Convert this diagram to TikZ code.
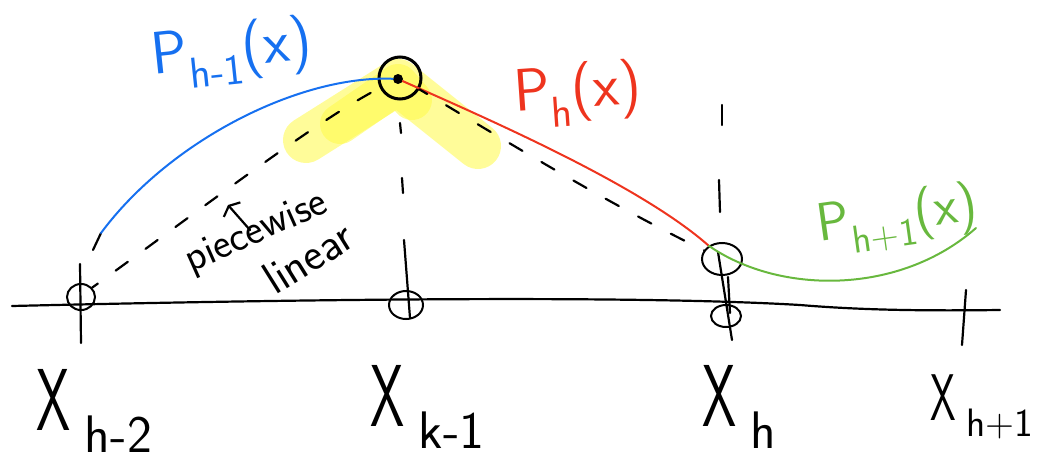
\documentclass[tikz,border=0pt]{standalone}
\usepackage{tikz}
\usetikzlibrary{arrows.meta,shapes.geometric}
\definecolor{penblue}{RGB}{22,112,240}
\definecolor{penred}{RGB}{238,52,30}
\definecolor{pengreen}{RGB}{104,184,62}
\definecolor{marker}{RGB}{255,250,70}
\tikzset{
  pen/.style={line width=2.2pt, line cap=round, line join=round, draw=black},
  dashpen/.style={pen, dash pattern=on 15pt off 22pt},
  colpen/.style={line width=2pt, line cap=round, line join=round},
  knot/.style={ellipse, draw=black, line width=2pt, minimum width=28pt, minimum height=26pt, inner sep=0pt},
  dot/.style={circle, fill=black, minimum size=10pt, inner sep=0pt},
  hilite/.style={line width=46pt, line cap=round, line join=round, draw=marker, opacity=0.55},
  curvelab/.style={font=\fontsize{60}{60}\selectfont\sffamily, inner sep=0pt},
  xlab/.style={font=\fontsize{88}{88}\selectfont\sffamily, inner sep=0pt, anchor=base west},
  notelab/.style={font=\fontsize{42}{42}\selectfont\sffamily, inner sep=0pt}
}
\newcommand{\lowsub}[1]{\raisebox{-0.3em}{\scalebox{0.72}{#1}}}
\newcommand{\xsub}[1]{\scalebox{0.62}[1]{X}\,\raisebox{-0.25em}{\scalebox{0.6}{#1}}}

\begin{document}
\begin{tikzpicture}[x=1pt,y=-1pt]
\useasboundingbox (0,0) rectangle (1039,463);
\draw[hilite] (306,140) -- (398,82) -- (478,146);
\draw[hilite, line width=40pt] (340,124) -- (398,84) -- (412,100);
\coordinate (axL) at (12,306);
\coordinate (axR) at (1000,310);
\coordinate (gEnd) at (976,228);
\coordinate (bStart) at (101,233);
\coordinate (arT) at (250,230);
\coordinate (arH) at (228,205);
\node[knot] (c0) at (81,297) {};
\node[knot, minimum width=34pt, minimum height=28pt] (c1) at (406,305) {};
\node[knot, line width=3pt, minimum width=42pt, minimum height=42pt] (c2) at (400,78) {};
\node[dot] (pk) at (398,79) {};
\node[knot, minimum width=40pt, minimum height=32pt] (c3) at (722,259) {};
\node[knot, minimum width=30pt, minimum height=22pt] (c4) at (726,316) {};
\draw[pen] (axL) .. controls (350,298) and (650,296) .. (800,305) .. controls (860,310) and (920,311) .. (axR);
\draw[pen] (80,264) -- (81,343);
\draw[pen] (404,240) -- (410,318);
\draw[pen] (400,123) -- (401,133);
\draw[pen] (402,178) -- (403,193);
\draw[pen] (722,105) -- (722,125);
\draw[pen] (719,180) -- (720,212);
\draw[pen] (718,252) -- (732,340);
\draw[pen] (728,277) -- (730,313);
\draw[pen] (966,290) -- (962,345);
\draw[pen] (93,250) -- (bStart);
\draw[colpen, penblue] (bStart) .. controls (170,140) and (300,75) .. (pk);
\draw[colpen, penred] (pk) .. controls (490,120) and (640,185) .. (c3.135);
\draw[colpen, pengreen] (c3.135) .. controls (780,295) and (900,295) .. (gEnd);
\draw[dashpen, dash phase=8pt] (c0.40) .. controls (200,210) and (320,118) .. (c2);
\draw[dashpen, dash phase=6pt] (c2) .. controls (480,125) and (600,200) .. (c3);
\draw[pen, -{Straight Barb[length=5pt,width=22pt]}] (arT) -- (arH);
\node[notelab, rotate=24] (pw) at (257,233) {piecewise};
\node[notelab, font=\fontsize{46}{46}\selectfont\sffamily, rotate=32] (lin) at (308,257) {linear};
\node[curvelab, text=penblue, rotate=6] (lbm) at (232,53) {P\lowsub{h-1}(x)};
\node[curvelab, text=penred, rotate=4] (lbh) at (578,94) {P\lowsub{h}(x)};
\node[curvelab, font=\fontsize{54}{54}\selectfont\sffamily, text=pengreen, rotate=8] (lbp) at (898,220) {P\lowsub{h+1}(x)};
\node[xlab] (x0) at (36,430) {\xsub{h-2}};
\node[xlab] (x1) at (370,426) {\xsub{k-1}};
\node[xlab] (x2) at (702,426) {\xsub{h}};
\node[xlab, font=\fontsize{66}{66}\selectfont\sffamily] (x3) at (930,420) {\xsub{h+1}};
\end{tikzpicture}
\end{document}
